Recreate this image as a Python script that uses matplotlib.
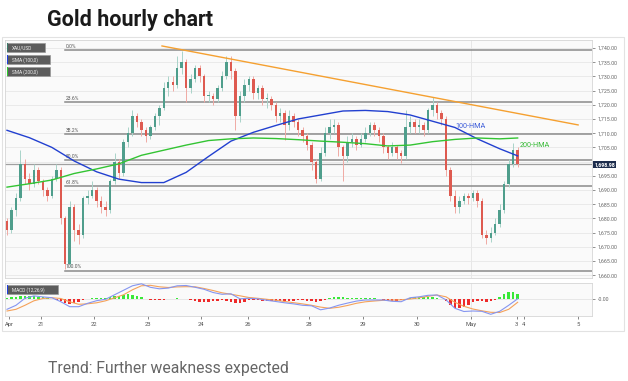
import matplotlib.pyplot as plt
from matplotlib.patches import Rectangle

plt.rcParams['font.family'] = ['Roboto', 'DejaVu Sans']

# 2-hour candles, XAU/USD, Apr 20 - May 4
opens = [1679, 1676, 1683, 1687, 1699, 1694, 1692, 1697, 1693, 1690,
         1688, 1694, 1697, 1680, 1664, 1684, 1676, 1674, 1687, 1688,
         1690, 1686, 1684, 1683, 1693, 1700, 1696, 1707, 1710, 1716,
         1714, 1711, 1709, 1712, 1716, 1719, 1726, 1728, 1727, 1733,
         1735, 1726, 1729, 1733, 1730, 1723, 1723, 1722, 1726, 1730,
         1735, 1732, 1716, 1723, 1727, 1729, 1724, 1726, 1722, 1722,
         1720, 1716, 1717, 1713, 1716, 1714, 1711, 1709, 1706, 1700,
         1694, 1703, 1710, 1712, 1713, 1705, 1702, 1707, 1708, 1706,
         1708, 1710, 1713, 1711, 1709, 1705, 1703, 1705, 1703, 1702,
         1712, 1714, 1712, 1713, 1711, 1718, 1720, 1717, 1715, 1697,
         1688, 1684, 1686, 1688, 1687, 1689, 1686, 1674, 1673, 1675,
         1678, 1683, 1692, 1699, 1704]
closes = [1676, 1683, 1687, 1699, 1694, 1692, 1697, 1693, 1690, 1688,
          1694, 1697, 1680, 1664, 1684, 1676, 1674, 1687, 1688, 1690,
          1686, 1684, 1683, 1693, 1700, 1696, 1707, 1710, 1716, 1714,
          1711, 1709, 1712, 1716, 1719, 1726, 1728, 1727, 1733, 1735,
          1726, 1729, 1733, 1730, 1723, 1723, 1722, 1726, 1730, 1735,
          1732, 1716, 1723, 1727, 1729, 1724, 1726, 1722, 1722, 1720,
          1716, 1717, 1713, 1716, 1714, 1711, 1709, 1706, 1700, 1694,
          1703, 1710, 1712, 1713, 1705, 1702, 1707, 1708, 1706, 1708,
          1710, 1713, 1711, 1709, 1705, 1703, 1705, 1703, 1702, 1712,
          1714, 1712, 1713, 1711, 1718, 1720, 1717, 1715, 1697, 1688,
          1684, 1686, 1688, 1687, 1689, 1686, 1674, 1673, 1675, 1678,
          1683, 1692, 1699, 1704, 1699]
highs = [1680, 1684, 1689, 1704, 1701, 1696, 1699, 1698, 1694, 1691,
         1695, 1699, 1698, 1681, 1686, 1685, 1678, 1688, 1690, 1693,
         1691, 1688, 1686, 1694, 1703, 1701, 1708, 1712, 1718, 1717,
         1715, 1712, 1713, 1717, 1720, 1728, 1730, 1730, 1737, 1739,
         1736, 1731, 1734, 1734, 1731, 1725, 1724, 1727, 1732, 1737,
         1737, 1733, 1725, 1729, 1730, 1730, 1727, 1727, 1724, 1723,
         1721, 1719, 1718, 1718, 1717, 1715, 1712, 1710, 1707, 1701,
         1705, 1712, 1715, 1715, 1714, 1706, 1709, 1710, 1709, 1710,
         1712, 1714, 1714, 1712, 1710, 1706, 1707, 1706, 1704, 1718,
         1716, 1715, 1715, 1714, 1719, 1722.7, 1721, 1718, 1716, 1698,
         1690, 1688, 1689, 1689, 1690, 1690, 1687, 1676, 1677, 1680,
         1685, 1693, 1701, 1706.5, 1705]
lows = [1674, 1675, 1681, 1686, 1692, 1690, 1691, 1692, 1688, 1686,
        1687, 1693, 1678, 1662, 1663, 1672, 1671, 1673, 1685, 1687,
        1684, 1682, 1681, 1682, 1692, 1694, 1695, 1705, 1709, 1712,
        1709, 1707, 1708, 1711, 1713, 1718, 1723, 1725, 1726, 1731,
        1721, 1724, 1728, 1728, 1721, 1721, 1720, 1721, 1725, 1729,
        1729, 1711, 1714, 1721, 1725, 1722, 1722, 1720, 1719, 1718,
        1714, 1714, 1707.5, 1711, 1712, 1709, 1707, 1704, 1697, 1692.5,
        1693, 1702, 1708, 1710, 1702, 1693, 1700, 1705, 1704, 1705,
        1707, 1709, 1709, 1707, 1703, 1701, 1702, 1701, 1699.5, 1701,
        1710, 1710, 1710, 1709, 1710, 1716, 1715, 1713, 1695, 1686,
        1682, 1682, 1685, 1685, 1686, 1684, 1673, 1671, 1671.5, 1674,
        1677, 1682, 1691, 1698, 1698]

ma_pos = [0, 5, 10, 15, 20, 25, 30, 35, 40, 45, 50, 55, 60, 65, 70, 75,
          80, 85, 90, 95, 100, 105, 110, 114]
sma100 = [1711, 1708.4, 1705, 1700.2, 1696.4, 1693.8, 1692.6, 1692.6,
          1696.2, 1701.8, 1707.2, 1710.3, 1712.7, 1715, 1716.4, 1717.8,
          1718, 1717.6, 1716.4, 1714.2, 1712, 1708, 1704.5, 1702]
sma200 = [1691, 1692.2, 1693.5, 1695.8, 1697.4, 1699.2, 1702.2, 1704,
          1705.8, 1707.4, 1708, 1708.3, 1708.1, 1707.7, 1707.2, 1706.8,
          1706.3, 1705.5, 1705.8, 1707, 1707.8, 1708.3, 1708, 1708.3]

trend_x = [34.6, 127.5]
trend_y = [1740.7, 1712.9]

fib_high = 1739.2
fib_low = 1661.6
fib_levels = [0.0, 0.236, 0.382, 0.5, 0.618, 1.0]
last_price = 1698.98

macd_pos = list(range(0, 115, 2))
macd = [-10, -6, 1, 3.4, 2.4, 1.6, -2.4, -7.4, -7.4, -4, -1.4, 0, 4.5, 9,
        13.5, 15.5, 12, 10.5, 11.2, 13.5, 13.8, 12, 10, 6.8, 5, 5.5, 0.5,
        1, 0.5, -1, -2.2, -3.5, -4.6, -6, -6.5, -10.5, -8.8, -6, -3.8, -1.8,
        -0.7, -0.7, -0.7, -2, -2.4, 1.6, 2.5, 4, 4.3, -0.5, -9, -12.2,
        -11.7, -12, -15, -12, -6, 0.5]
signal = [-11.7, -10, -6, -1.5, 0.8, 1.6, 0.8, -2.5, -5, -4.5, -3.5, -1.5,
          1.5, 4.5, 9.5, 13.5, 14, 12.5, 11.8, 12.4, 12.6, 12.5, 10.8, 8.8,
          6.5, 5, 3.5, 1.8, 1, 0, -1, -2.2, -3.4, -4.6, -6, -7.8, -9, -8,
          -6.2, -4, -2.5, -1.7, -1, -0.8, -0.5, 0.3, 1.5, 3, 4.3, 2.5, -3,
          -7, -9.7, -11.5, -13, -13.2, -10, -3]
hist = [1.5, 2, 2.5, 3.2, 3.8, 3.6, 3.4, 2.8, 2, 1.2, 0.6, -0.8, -1.5, -3.5,
        -4.2, -3.6, -2.5, -1, 0.5, 1.2, 1.5, 1.5, 1.8, 2.2, 3, 3.8, 4.6, 5,
        4.5, 3.5, 2, 0.5, -0.6, -1, -0.8, -0.4, 0.5, 0.8, 1, 0.8, 0.3, -0.8,
        -1.5, -2.2, -2.6, -2.4, -1.8, -1.2, -1, -1.5, -2.8, -4, -3.5, -2.2,
        -1, -0.8, -1, -1.2, -1.4, -1.5, -1.2, -1.4, -1.6, -1.3, -1.2, -0.8,
        -0.6, -1.2, -1.8, -2.2, -1.5, -0.3, 1.2, 2.4, 2.6, 2.2, 1.6, 1.3,
        1.4, 1.4, 1.5, 1.3, 1, 0.3, -0.6, -1.2, -1.5, -1.4, -0.8, 0.6, 1.5,
        2.2, 2.5, 2.4, 2.2, 2, 1.6, 0.8, -2, -5.5, -8.2, -8.8, -7.5, -5.2,
        -3, -1.2, -1.8, -2.4, -1.6, -0.4, 2, 5, 7.4, 7.2, 5.5]

tick_pos = [0.45, 7.6, 19.4, 31.5, 43.3, 53.8, 67.4, 79.5, 91.5, 103.6,
            113.8, 115.4, 127.5]
tick_labels = ['Apr', '21', '22', '23', '24', '26', '28', '29', '30', 'May',
               '3', '4', '5']

W, H = 628, 381
fig = plt.figure(figsize=(W / 100, H / 100), dpi=100)

def fx(px):
    return px / W

def fy(py):
    return 1 - py / H

fig.text(fx(47), fy(20), 'Gold hourly chart', fontsize=15.5, fontweight='bold',
         color='#1a1a1a', va='center', ha='left')
fig.text(fx(48), fy(369), 'Trend: Further weakness expected', fontsize=11.3,
         color='#666666', va='center', ha='left')
fig.patches.append(Rectangle((fx(2), fy(331)), fx(622), 294 / H, transform=fig.transFigure,
                             fill=False, edgecolor='#e2e2e2', lw=0.8))

ax = fig.add_axes([fx(5), fy(278), fx(587), 238 / H])
mx = fig.add_axes([fx(5), fy(316), fx(587), 33 / H])

for a in (ax, mx):
    a.set_facecolor('#fafafa')
    for s in a.spines.values():
        s.set_color('#d6d6d6')
        s.set_linewidth(0.6)
    a.set_xlim(-0.45, 130.6)
    a.axvline(103.6, color='#e4e4e4', lw=0.6, zorder=0)

# grid
yt = list(range(1660, 1745, 5))
for v in yt:
    ax.axhline(v, color='#e8e8e8', lw=0.6, zorder=0)

# candles
for i in range(len(closes)):
    o, c = opens[i], closes[i]
    if c >= o:
        body, wick = '#4f9e8c', '#a9d3c9'
    else:
        body, wick = '#de5a50', '#f0aaa4'
    ax.vlines(i, lows[i], highs[i], color=wick, lw=0.7, zorder=2)
    ax.bar(i, max(abs(c - o), 0.3), bottom=min(o, c), width=0.55, color=body,
           lw=0, zorder=3)

# fib levels
for lv in fib_levels:
    p = fib_high - lv * (fib_high - fib_low)
    ax.plot([12.9, 130.6], [p, p], color='#8a8a8a', lw=1.1, zorder=1)
    ax.text(13.1, p + 0.4, f'{lv * 100:.1f}%', fontsize=3.6, color='#555555',
            va='bottom', ha='left')
ax.axhline(last_price, color='#a0a0a0', lw=0.9, zorder=1)

ax.plot(ma_pos, sma100, color='#2240d0', lw=1.0, zorder=4)
ax.plot(ma_pos, sma200, color='#33c433', lw=1.0, zorder=4)
ax.plot(trend_x, trend_y, color='#f5a030', lw=1.0, zorder=4)
ax.text(100.2, 1712.3, '100-HMA', color='#3a5ad8', fontsize=5.2, va='center')
ax.text(114.5, 1705.8, '200-HMA', color='#33b833', fontsize=5.2, va='center')

ax.set_ylim(1659, 1742.8)
ax.set_yticks(yt)
# the 1,700 label sits under the last-price tag
ax.set_yticklabels(['' if v == 1700 else f'{v:,.2f}' for v in yt])
ax.yaxis.tick_right()
ax.tick_params(axis='y', labelsize=3.8, colors='#666666', length=2, width=0.5, pad=2)
ax.set_xticks([])
ax.text(1.004, last_price, f'{last_price:,.2f}', transform=ax.get_yaxis_transform(),
        fontsize=3.8, color='white', fontweight='bold', va='center', ha='left',
        bbox=dict(boxstyle='square,pad=0.25', fc='#1d2d4d', ec='none'))

# MACD panel
hcol = ['#38e838' if h >= 0 else '#ee2a2a' for h in hist]
mx.bar(range(len(hist)), hist, width=0.55, color=hcol, lw=0, zorder=2)
mx.plot(macd_pos, signal, color='#f5a25a', lw=0.8, zorder=3)
mx.plot(macd_pos, macd, color='#8595f0', lw=0.8, zorder=3)
mx.axhline(0, color='#e0e0e0', lw=0.5, zorder=1)
mx.set_ylim(-16.7, 16.3)
mx.set_yticks([0])
mx.set_yticklabels(['-0.00'])
mx.yaxis.tick_right()
mx.tick_params(axis='y', labelsize=3.8, colors='#666666', length=2, width=0.5, pad=2)
mx.set_xticks(tick_pos)
mx.set_xticklabels(tick_labels)
mx.tick_params(axis='x', labelsize=4.2, colors='#555555', length=2, width=0.5, pad=2)

# legend tags
def tag(px, py, w, label, strip):
    fig.patches.append(Rectangle((fx(px), fy(py + 9)), fx(w), 9 / H,
                                 transform=fig.transFigure, fc='#5c5c5c',
                                 ec='#9a9a9a', lw=0.5, zorder=10))
    fig.patches.append(Rectangle((fx(px), fy(py + 9)), fx(1.5), 9 / H,
                                 transform=fig.transFigure, fc=strip, ec='none',
                                 zorder=11))
    fig.text(fx(px + 5), fy(py + 4.7), label, fontsize=3.4, color='#f0f0f0',
             va='center', ha='left', zorder=12)

tag(7, 43, 38, 'XAU/USD', '#3c7a6a')
tag(7, 55, 43, 'SMA (100,0)', '#1f3fe0')
tag(7, 67, 43, 'SMA (200,0)', '#2ecc2e')
tag(7, 285, 51, 'MACD (12,26,9)', '#1f3fe0')

plt.savefig('out.png', dpi=100)
